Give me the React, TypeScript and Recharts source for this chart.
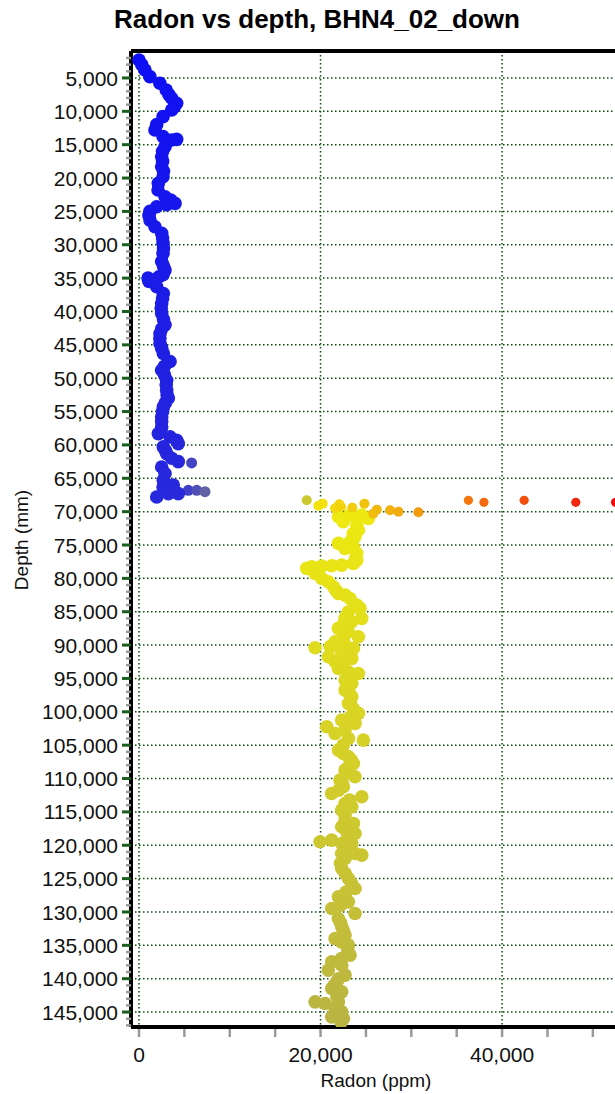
import { CartesianGrid, ReferenceLine, Scatter, ScatterChart, XAxis, YAxis } from "recharts";

const FONT = '"Liberation Sans", Arial, Helvetica, sans-serif';

// upper (blue) run, depth in mm / radon in ppm
const upperDepth = [
  2300, 3000, 3800, 4800, 5800, 6800, 7500, 8050, 8800, 9300, 9800, 10800, 12000, 12800, 13800, 14200,
  14300, 15300, 16000, 16800, 17500, 18300, 19000, 19800, 20800, 21800, 22800, 23300, 23800, 24000,
  24300, 25000, 25600, 26300, 27300, 28300, 29000, 29800, 30500, 31300, 32500, 33200, 33800, 34500,
  34800, 35000, 35500, 36300, 37300, 38000, 38800, 39500, 40300, 41200, 42000, 42600, 43300, 44000,
  44800, 45500, 46300, 47500, 48200, 48800, 49500, 50300, 51000, 51800, 52500, 53000, 53700, 54300,
  55000, 55800, 56500, 57300, 58300, 58800, 59300, 59800, 60300, 60800, 61300, 62000, 62500, 63300,
  64300, 65300, 66000, 66300, 67300, 67300, 67800,
];
const upperRadon = [
  0, 300, 660, 1200, 2300, 3000, 3300, 3600, 4150, 3900, 3600, 2650, 1950, 1760, 2650, 4150,
  3600, 2870, 2600, 2500, 2600, 2500, 2700, 2650, 2130, 2100, 2870, 3500, 3970, 3050,
  1950, 1210, 1100, 1210, 1760, 2500, 2600, 2650, 2700, 2650, 2500, 2700, 2870, 2650,
  2200, 1000, 1100, 1950, 2680, 2600, 2500, 2450, 2500, 2700, 2870, 2500, 2320, 2300,
  2320, 2500, 2680, 3420, 2800, 2500, 2800, 3050, 3000, 3050, 3100, 3230, 2900, 2680,
  2600, 2500, 2500, 2500, 2130, 3420, 4150, 4330, 2680, 2900, 3050, 3600, 4330, 2500,
  2870, 2680, 3780, 2650, 3230, 4330, 1950,
];

// grey-blue stragglers at the bottom of the upper run
const straggleDepth = [62700, 66800, 66800, 67000];
const straggleRadon = [5800, 5430, 6360, 7270];

// horizontal spray around 68-70 m
const sprayDepth = [
  68300, 69100, 68800, 69500, 68900, 69300, 69400, 68800, 69700, 69800, 70000, 70100, 70300,
  68300, 68600, 68300, 68600, 68600,
];
const sprayRadon = [
  18480, 19760, 20240, 21600, 22070, 22260, 23500, 24830, 26200, 27660, 28580, 30780, 25800,
  36290, 38000, 42430, 48120, 52500,
];

// lower (yellow) run
const lowerDepth = [
  70500, 70500, 70760, 71010, 71500, 72010, 72760, 73300, 73760, 74510, 74760, 75260, 75510, 76260,
  76800, 77260, 77760, 78010, 78110, 78160, 78260, 78510, 79260, 80010, 80510, 81260, 81800, 82260,
  82510, 83010, 84000, 84500, 85000, 85500, 86000, 86000, 86500, 87000, 87500, 88000, 88750, 89000,
  89500, 90000, 90250, 90400, 90500, 91200, 91750, 92000, 92250, 92500, 93500, 94000, 94250, 95250,
  95750, 96250, 96750, 97250, 97750, 98250, 98750, 99500, 100240, 100800, 101240, 101740, 102240,
  102740, 103240, 103990, 104240, 105000, 105740, 106240, 106740, 107240, 107740, 108240, 108740,
  109240, 109740, 110240, 110740, 111240, 111740, 112240, 112740, 113240, 113740, 114240, 114740,
  115500, 116230, 116730, 117230, 117730, 118230, 118800, 119230, 119480, 119730, 119730, 120500,
  121230, 121230, 121480, 121980, 122700, 123480, 124200, 124980, 125700, 126480, 127000, 127730,
  128480, 129000, 129470, 130220, 130970, 131600, 132220, 132800, 133470, 133970, 134500, 134970,
  135700, 136470, 136970, 137470, 137970, 138720, 139470, 140000, 140470, 141000, 141470, 141970,
  142700, 143470, 143470, 143720, 144470, 144970, 145500, 145720, 145970, 146500,
];
const lowerRadon = [
  23250, 24540, 21970, 25270, 22500, 23990, 24170, 23600, 23800, 23250, 21970, 23620, 22700, 23990,
  23900, 23990, 23620, 22330, 21230, 20130, 19030, 18480, 19400, 20130, 20860, 21420, 21700, 21970,
  22700, 23250, 23990, 24350, 23070, 22900, 22700, 24540, 23440, 22500, 21970, 23070, 24170, 22520,
  21600, 22700, 21050, 19400, 23620, 22300, 20860, 23440, 22700, 21600, 21970, 23070, 24170, 22700,
  23440, 23000, 22700, 23200, 23440, 23300, 23070, 23600, 24170, 23300, 22330, 23800, 20680,
  22700, 21600, 23070, 24720, 22500, 21970, 22500, 23070, 23400, 23620, 23100, 22700,
  23300, 23800, 22150, 22400, 22520, 22000, 21230, 24540, 23200, 22700, 23440, 22330,
  22700, 22700, 23620, 22330, 22800, 23800, 23000, 21230, 19950, 22330, 23440, 22700,
  22330, 23800, 24540, 22700, 22200, 22330, 22700, 23070, 23400, 23800, 22800, 21970,
  23070, 22200, 21230, 23800, 21970, 22200, 22330, 22500, 22700, 21600, 22300, 23070,
  23000, 23250, 22300, 21230, 22330, 20860, 22700, 22000, 21780, 21500, 21230, 22330,
  21800, 21970, 19400, 20500, 21600, 22330, 21800, 21230, 22520, 22260,
];

const depthTicks = Array.from({ length: 146 }, (_, i) => 1000 * (i + 2));
const depthGrid = depthTicks.filter((v) => v % 5000 === 0);
const radonTicks = Array.from({ length: 12 }, (_, i) => 5000 * i);
const radonLabels = [0, 20000, 40000];
const radonGrid = [0, 20000, 40000, 60000];

const DEPTH_DOMAIN = [960, 147240];
const RADON_DOMAIN = [-880, 60700];

const clamp = (t: number) => Math.max(0, Math.min(1, t));
const mix = (a: number, b: number, t: number) => Math.round(a + (b - a) * t);

function blueColor(radon: number, depth: number) {
  const d = clamp((depth - 2000) / 66000);
  const g = clamp((radon - 4300) / 3000);
  const r = mix(mix(14, 40, d), 98, g);
  const b = mix(mix(245, 220, d), 165, g);
  return `rgb(${r},${r},${b})`;
}

function yellowColor(depth: number) {
  const s = clamp((depth - 70000) / 76000);
  return `rgb(${mix(238, 186, s)},${mix(234, 180, s)},${mix(16, 66, s)})`;
}

function hotColor(radon: number) {
  const t = clamp((radon - 20000) / 32000);
  return `hsl(${56 - 56 * t}, 90%, 50%)`;
}

const toPoints = (ds: number[], rs: number[], color: (r: number, d: number) => string, r: number) =>
  ds.map((depth, i) => ({ depth, radon: rs[i], color: color(rs[i], depth), r }));

const upper = toPoints(upperDepth, upperRadon, blueColor, 6.8);
const straggle = toPoints(straggleDepth, straggleRadon, blueColor, 5.5);
const spray = toPoints(sprayDepth, sprayRadon, (r) => (r < 19000 ? "rgb(204,200,48)" : hotColor(r)), 5)
  .map((p) => (p.radon > 35000 ? { ...p, r: 4.6 } : p));
const lower = toPoints(lowerDepth, lowerRadon, (_r, d) => yellowColor(d), 6.8);

const Dot = (props: any) => {
  const { cx, cy, payload } = props;
  if (cx == null || cy == null) return null;
  return <circle cx={cx} cy={cy} r={payload.r} fill={payload.color} />;
};

const fmt = (v: number) => v.toLocaleString("en-US");

// tick x is where the label ends; the mark runs from x+3 up to the axis
const DepthTick = (props: any) => {
  const { x, y, payload } = props;
  const major = payload.value % 5000 === 0;
  return (
    <g>
      <line
        x1={major ? x + 3 : x + 7}
        x2={x + 12}
        y1={y}
        y2={y}
        stroke={major ? "#1b5e20" : "#9a9a9a"}
        strokeWidth={major ? 3 : 2.5}
      />
      {major && (
        <text x={x - 1} y={y} dy="0.36em" textAnchor="end" fontSize={21} fontFamily={FONT} fill="#111">
          {fmt(payload.value)}
        </text>
      )}
    </g>
  );
};

const RadonTick = (props: any) => {
  const { x, y, payload } = props;
  return (
    <g>
      <line x1={x} x2={x} y1={y - 18} y2={y - 10} stroke="#9a9a9a" strokeWidth={2.5} />
      {radonLabels.includes(payload.value) && (
        <text x={x} y={y} dy="0.72em" textAnchor="middle" fontSize={21} fontFamily={FONT} fill="#111">
          {fmt(payload.value)}
        </text>
      )}
    </g>
  );
};

export default function App() {
  return (
    <div style={{ position: "absolute", left: 0, top: 0, width: 615, height: 1094, overflow: "hidden", background: "#fff", fontFamily: FONT }}>
      <div style={{ position: "absolute", left: 0, top: 4, width: 634, textAlign: "center", fontSize: 26, fontWeight: 700, color: "#000" }}>
        Radon vs depth, BHN4_02_down
      </div>
      <div style={{ position: "absolute", left: 22, top: 540, transform: "translate(-50%, -50%) rotate(-90deg)", fontSize: 19, whiteSpace: "nowrap", color: "#111" }}>
        Depth (mm)
      </div>
      <div style={{ position: "absolute", left: 376, top: 1081, transform: "translate(-50%, -50%)", fontSize: 19, whiteSpace: "nowrap", color: "#111" }}>
        Radon (ppm)
      </div>
      <div style={{ position: "absolute", left: 0, top: 0 }}>
        <ScatterChart width={700} height={1094} margin={{ top: 51, right: 10, bottom: 0, left: 0 }}>
          <CartesianGrid xAxisId="grid" yAxisId="grid" stroke="#0b4f0b" strokeWidth={1.5} strokeDasharray="1.5 2.5" />
          {/* hidden axes that only place the grid lines */}
          <XAxis xAxisId="grid" hide type="number" dataKey="radon" domain={RADON_DOMAIN} allowDataOverflow ticks={radonGrid} interval={0} />
          <YAxis yAxisId="grid" hide type="number" dataKey="depth" reversed domain={DEPTH_DOMAIN} allowDataOverflow ticks={depthGrid} interval={0} />
          <XAxis
            type="number"
            dataKey="radon"
            domain={RADON_DOMAIN}
            allowDataOverflow
            ticks={radonTicks}
            interval={0}
            height={67}
            tickSize={9}
            tickMargin={11}
            tickLine={false}
            tick={<RadonTick />}
            axisLine={{ stroke: "#000", strokeWidth: 4 }}
          />
          <YAxis
            type="number"
            dataKey="depth"
            reversed
            domain={DEPTH_DOMAIN}
            allowDataOverflow
            ticks={depthTicks}
            interval={0}
            width={131}
            tickSize={9}
            tickMargin={3}
            tickLine={false}
            tick={<DepthTick />}
            axisLine={{ stroke: "#000", strokeWidth: 4 }}
          />
          <ReferenceLine y={DEPTH_DOMAIN[0]} stroke="#000" strokeWidth={4} />
          <Scatter data={lower} shape={<Dot />} isAnimationActive={false} />
          <Scatter data={spray} shape={<Dot />} isAnimationActive={false} />
          <Scatter data={straggle} shape={<Dot />} isAnimationActive={false} />
          <Scatter data={upper} shape={<Dot />} isAnimationActive={false} />
        </ScatterChart>
      </div>
    </div>
  );
}
